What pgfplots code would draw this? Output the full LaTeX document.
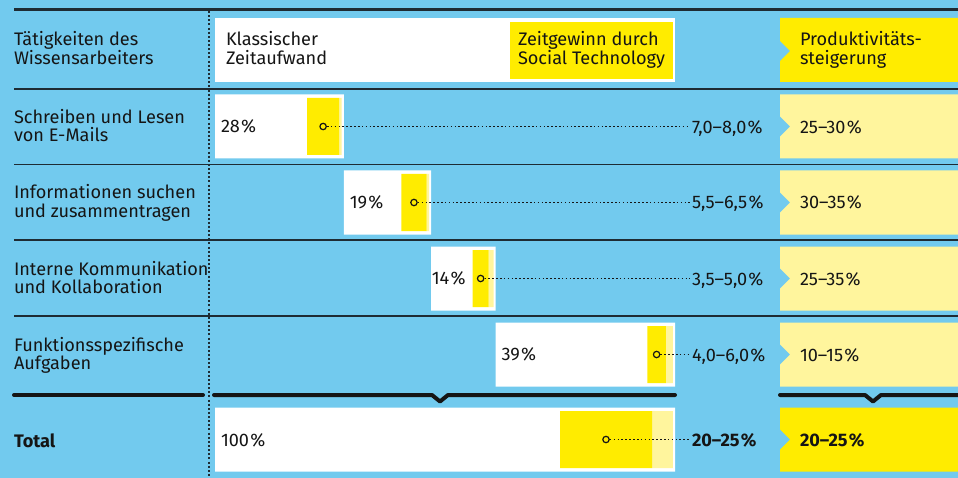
\documentclass[border=0pt]{standalone}
\usepackage{pgfplots}
\usepackage{pgfplotstable}
\pgfplotsset{compat=1.18}
\usepackage{fontspec}
\setmainfont{Fira Sans}
\definecolor{bgblue}{HTML}{72CAEE}
\definecolor{ylw}{HTML}{FFEC00}
\definecolor{pale}{HTML}{FFF59D}
\definecolor{ink}{HTML}{151515}
\definecolor{rulec}{HTML}{1E2B33}

% y = row centre (px from top), off = start of bar (%), share = classic time share (%),
% low/high = time gain through social technology (%)
\pgfplotstableread{
y     off share low high
126.5 0   28    7.0 8.0
202.5 28  19    5.5 6.5
278.5 47  14    3.5 5.0
354.5 61  39    4.0 6.0
439.5 0   100   20  25
}\data

\pgfplotsset{
 layer/.style={at={(0,0)},anchor=south west,scale only axis,width=718.5pt,height=358.5pt,
   hide axis,y dir=reverse,ymin=0,ymax=478,clip=false},
 pxax/.style={layer,xmin=0,xmax=958},
 pcax/.style={layer,xmin=-46.73913,xmax=161.52174},
}
\newcommand\fs{\fontsize{13.6}{16}\selectfont}
\newcommand\pc{\kern0.9pt\%}
\tikzset{t/.style={inner sep=0pt,outer sep=0pt,text=ink,font=\fs,anchor=base west}}
\newcommand\rbox[2]{\fill[#2] (780,#1-32) -- (958,#1-32) -- (958,#1+32) -- (780,#1+32) -- (780,#1+10) -- (790,#1) -- (780,#1-10) -- cycle;}

\begin{document}
\begin{tikzpicture}
% ---------- background, rules, header, right column, texts ----------
\begin{axis}[pxax,name=bg]
\fill[bgblue] (0,0) rectangle (958,478);
\draw[rulec,line width=2.3pt] (14,9.5) -- (958,9.5);
\draw[rulec,line width=1.1pt] (14,89) -- (958,89);
\draw[rulec,line width=1.1pt] (14,164.5) -- (958,164.5);
\draw[rulec,line width=1.1pt] (14,240) -- (958,240);
\draw[rulec,line width=1.1pt] (14,316) -- (958,316);
\draw[rulec,line width=1.3pt,dash pattern=on 1.5pt off 1.6pt] (209,11) -- (209,478);
\draw[ink,line width=3pt,line cap=round,line join=round] (14,395) -- (203,395);
\draw[ink,line width=3pt,line cap=round,line join=round] (214,395) -- (432,395) -- (440,401.5) -- (448,395) -- (675,395);
\draw[ink,line width=3pt,line cap=round,line join=round] (780,395) -- (865,395) -- (873,401.5) -- (881,395) -- (958,395);
% header
\fill[white] (215,18) rectangle (675,82);
\fill[ylw] (510,22) rectangle (673,79);
\fill[ylw] (780,18) -- (958,18) -- (958,82) -- (780,82) -- (780,61) -- (790,51) -- (780,41) -- cycle;
\node[t] at (14,45.5) {Tätigkeiten des};
\node[t] at (14,64.5) {Wissensarbeiters};
\node[t] at (226,45.5) {Klassischer};
\node[t] at (226,64.5) {Zeitaufwand};
\node[t] at (518,45.5) {Zeitgewinn durch};
\node[t] at (518,64.5) {Social Technology};
\node[t] at (800,45.5) {Produktivitäts-};
\node[t] at (800,64.5) {steigerung};
% right column boxes
\rbox{126.5}{pale}
\rbox{202.5}{pale}
\rbox{278.5}{pale}
\rbox{354.5}{pale}
\rbox{439.5}{ylw}
% row labels
\node[t] at (14,123) {Schreiben und Lesen};
\node[t] at (14,141.5) {von E-Mails};
\node[t] at (14,199) {Informationen suchen};
\node[t] at (14,217.5) {und zusammentragen};
\node[t] at (14,275) {Interne Kommunikation};
\node[t] at (14,293.5) {und Kollaboration};
\node[t] at (14,351) {Funktionsspezifische};
\node[t] at (14,369.5) {Aufgaben};
\node[t,font=\fs\bfseries] at (14,447) {Total};
% time gain labels
\node[t] at (692,133) {7,0--8,0\pc};
\node[t] at (692,209) {5,5--6,5\pc};
\node[t] at (692,285) {3,5--5,0\pc};
\node[t] at (692,361) {4,0--6,0\pc};
\node[t,font=\fs\bfseries] at (692,446) {20--25\pc};
% productivity labels
\node[t] at (800,133) {25--30\pc};
\node[t] at (800,209) {30--35\pc};
\node[t] at (800,285) {25--35\pc};
\node[t] at (800,361) {10--15\pc};
\node[t,font=\fs\bfseries] at (800,446) {20--25\pc};
\end{axis}

% ---------- classic time (white floating bars) ----------
\begin{axis}[pcax,xbar stacked,bar width=64]
\addplot[draw=none,fill=none] table[x=off,y=y]{\data};
\addplot[draw=none,fill=white] table[x=share,y=y]{\data};
\end{axis}

% ---------- time gain (yellow / pale yellow) ----------
\begin{axis}[pcax,xbar stacked,bar width=57]
\addplot[draw=none,fill=none] table[x expr=\thisrow{off}+\thisrow{share}-\thisrow{high},y=y]{\data};
\addplot[draw=none,fill=ylw] table[x=low,y=y]{\data};
\addplot[draw=none,fill=pale] table[x expr=\thisrow{high}-\thisrow{low}-0.45,y=y]{\data};
\end{axis}

% ---------- markers, leader lines, shares ----------
\begin{axis}[pcax]
\addplot[only marks,mark=*,mark size=2.4pt,mark options={fill=ylw,draw=ink,line width=0.9pt,solid},
  error bars/.cd,x dir=plus,x explicit,error mark=none,
  error bar style={ink,line width=1pt,dash pattern=on 1.2pt off 1.7pt}]
  table[x expr=\thisrow{off}+\thisrow{share}-\thisrow{high}+\thisrow{low}/2,y=y,
        x error expr=103.2-(\thisrow{off}+\thisrow{share}-\thisrow{high}+\thisrow{low}/2)]{\data};
\node[t,xshift=4.5pt] at (0,133) {28\pc};
\node[t,xshift=4.5pt] at (28,209) {19\pc};
\node[t,xshift=0.5pt] at (47,285) {14\pc};
\node[t,xshift=4.5pt] at (61,361) {39\pc};
\node[t,xshift=4.5pt] at (0,446) {100\pc};
\end{axis}

\pgfresetboundingbox
\path[use as bounding box] (bg.south west) rectangle (bg.north east);
\end{tikzpicture}
\end{document}
